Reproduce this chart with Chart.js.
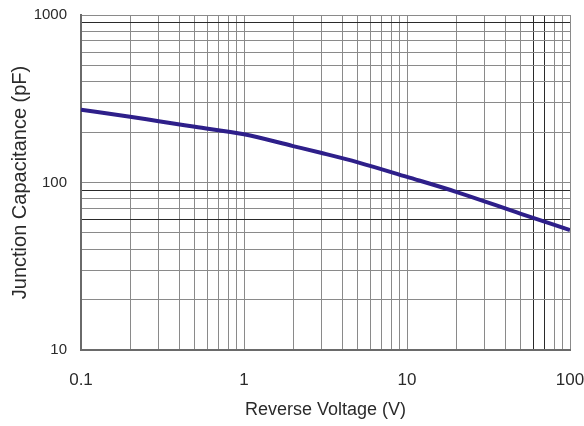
<!DOCTYPE html>
<html>
<head>
<meta charset="utf-8">
<script src="https://cdn.jsdelivr.net/npm/chart.js@4.4.1/dist/chart.umd.min.js"></script>
<style>
  html, body { margin: 0; padding: 0; background: #fff; }
  #wrap { width: 584px; height: 426px; }
</style>
</head>
<body>
<div id="wrap"><canvas id="capChart" width="584" height="426"></canvas></div>
<script>
// reverse voltage (V) and junction capacitance (pF)
const voltages = [0.1, 0.2, 0.3, 0.5, 1, 2, 3, 5, 10, 20, 50, 100];
const capacitance = [272, 247, 232, 215, 194, 165, 150, 132, 108, 88, 65, 52];

// grid lines: 1..9 per decade
const xTicks = [0.1, 0.2, 0.3, 0.4, 0.5, 0.6, 0.7, 0.8, 0.9, 1, 2, 3, 4, 5, 6, 7, 8, 9, 10, 20, 30, 40, 50, 60, 70, 80, 90, 100];
const yTicks = [10, 20, 30, 40, 50, 60, 70, 80, 90, 100, 200, 300, 400, 500, 600, 700, 800, 900, 1000];
const xLabels = [0.1, 1, 10, 100];
const yLabels = [10, 100, 1000];
// lines that came out darker in the scan
const xDark = [60, 70];
const yDark = [60, 90, 900];

const gridColor = '#8a8a8a';
const darkGrid = '#2a2a2a';
const textColor = '#2a2a2a';
const family = 'Liberation Sans, Arial, sans-serif';

const fixTicks = (vals) => (scale) => {
  scale.ticks = vals.map((v) => ({ value: v }));
};
const gridFor = (dark) => (ctx) => (ctx.tick && dark.includes(ctx.tick.value) ? darkGrid : gridColor);

new Chart(document.getElementById('capChart'), {
  type: 'line',
  data: {
    datasets: [{
      data: voltages.map((v, i) => ({ x: v, y: capacitance[i] })),
      borderColor: '#2e1f8a',
      borderWidth: 4,
      pointRadius: 0,
      cubicInterpolationMode: 'monotone'
    }]
  },
  options: {
    responsive: false,
    animation: false,
    layout: { padding: { top: 15, right: 14, bottom: 0, left: 0 } },
    plugins: { legend: { display: false }, tooltip: { enabled: false } },
    scales: {
      x: {
        type: 'logarithmic',
        min: 0.1,
        max: 100,
        afterBuildTicks: fixTicks(xTicks),
        afterFit: (s) => { s.height = 76; s.paddingLeft = 0; s.paddingRight = 0; },
        grid: { color: gridFor(xDark), lineWidth: 1, drawTicks: false },
        border: { color: '#6a6a6a', width: 2 },
        ticks: {
          autoSkip: false,
          maxRotation: 0,
          padding: 20,
          color: textColor,
          font: { family, size: 17 },
          callback: (v) => (xLabels.includes(v) ? String(v) : '')
        },
        title: {
          display: true,
          text: 'Reverse Voltage (V)',
          color: textColor,
          font: { family, size: 18 },
          padding: { top: 0, bottom: 5 }
        }
      },
      y: {
        type: 'logarithmic',
        min: 10,
        max: 1000,
        afterBuildTicks: fixTicks(yTicks),
        afterFit: (s) => { s.width = 81; s.paddingTop = 0; s.paddingBottom = 0; },
        grid: { color: gridFor(yDark), lineWidth: 1, drawTicks: false },
        border: { color: '#6a6a6a', width: 2 },
        ticks: {
          autoSkip: false,
          padding: 14,
          color: textColor,
          font: { family, size: 15 },
          callback: (v) => (yLabels.includes(v) ? String(v) : '')
        },
        title: {
          display: true,
          text: 'Junction Capacitance (pF)',
          color: textColor,
          font: { family, size: 20 },
          padding: { top: 8, bottom: 0 }
        }
      }
    }
  }
});
</script>
</body>
</html>
